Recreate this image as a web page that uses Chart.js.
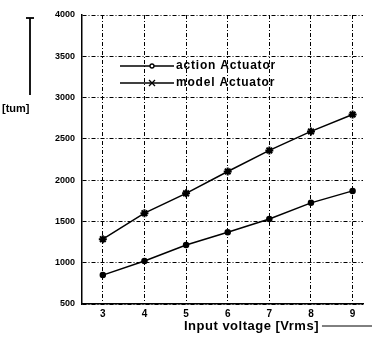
<!DOCTYPE html>
<html><head><meta charset="utf-8">
<script src="https://cdn.jsdelivr.net/npm/chart.js@4/dist/chart.umd.min.js"></script>
<style>html,body{margin:0;padding:0;background:#fff}#w{width:372px;height:341px}</style>
</head><body><div id="w"><canvas id="c"></canvas></div>
<script>
const categories = [3, 4, 5, 6, 7, 8, 9];
const actionActuator = [850, 1020, 1215, 1370, 1530, 1725, 1870];
const modelActuator = [1285, 1600, 1840, 2105, 2360, 2590, 2795];
const yTicks = [500, 1000, 1500, 2000, 2500, 3000, 3500, 4000];
const seriesNames = ['action Actuator', 'model Actuator'];
const yTitle = '[tum]';
const xTitle = 'Input voltage [Vrms]';

const FONT = '"Liberation Sans", Arial, sans-serif';

const annot = {
  id: 'annot',
  afterDraw(chart) {
    const ctx = chart.ctx;
    ctx.save();
    ctx.fillStyle = '#000'; ctx.strokeStyle = '#000';
    ctx.font = 'bold 11px ' + FONT;
    ctx.textAlign = 'left'; ctx.textBaseline = 'middle';
    ctx.fillText(yTitle, 2, 109);
    ctx.lineWidth = 1.8;
    ctx.beginPath(); ctx.moveTo(30, 18); ctx.lineTo(30, 95); ctx.stroke();
    ctx.beginPath(); ctx.moveTo(26, 18); ctx.lineTo(34, 18); ctx.stroke();
    ctx.font = 'bold 13px ' + FONT;
    if ('letterSpacing' in ctx) ctx.letterSpacing = '0.5px';
    ctx.fillText(xTitle, 184, 326);
    const tw = ctx.measureText(xTitle).width;
    ctx.lineWidth = 1;
    ctx.beginPath(); ctx.moveTo(184 + tw + 3, 326); ctx.lineTo(372, 326); ctx.stroke();
    ctx.font = 'bold 12px ' + FONT;
    if ('letterSpacing' in ctx) ctx.letterSpacing = '0.8px';
    [66, 83].forEach((y, i) => {
      ctx.lineWidth = 1.3;
      ctx.beginPath(); ctx.moveTo(120, y); ctx.lineTo(174, y); ctx.stroke();
      if (i === 0) {
        ctx.beginPath(); ctx.arc(152, y, 2, 0, Math.PI * 2); ctx.fillStyle = '#fff'; ctx.fill(); ctx.stroke();
        ctx.fillStyle = '#000';
      } else {
        ctx.beginPath(); ctx.moveTo(149, y - 3); ctx.lineTo(155, y + 3); ctx.moveTo(155, y - 3); ctx.lineTo(149, y + 3); ctx.stroke();
      }
      ctx.fillText(seriesNames[i], 176, y);
    });
    ctx.restore();
  }
};

new Chart(document.getElementById('c'), {
  type: 'line',
  data: {
    datasets: [
      { label: seriesNames[0], data: categories.map((x, i) => ({x, y: actionActuator[i]})),
        borderColor: '#000', backgroundColor: '#000', borderWidth: 1.5,
        pointStyle: 'circle', pointRadius: 2.5, pointBackgroundColor: '#000', pointBorderColor: '#000' },
      { label: seriesNames[1], data: categories.map((x, i) => ({x, y: modelActuator[i]})),
        borderColor: '#000', backgroundColor: '#000', borderWidth: 1.5,
        pointStyle: 'star', pointRadius: 4, pointBorderWidth: 2, pointBorderColor: '#000' }
    ]
  },
  options: {
    responsive: true, maintainAspectRatio: false, animation: false,
    layout: { padding: { top: 15, right: 9, left: 0, bottom: 0 } },
    plugins: { legend: { display: false }, tooltip: { enabled: false } },
    scales: {
      x: {
        type: 'linear', min: 2.5, max: 9.25,
        afterBuildTicks(s) { s.ticks = categories.map(v => ({ value: v })); },
        afterFit(s) { s.height = 37; },
        grid: { color: '#000', lineWidth: 1, drawTicks: false },
        border: { display: true, color: '#000', width: 1.5, dash: [4, 2, 1, 2] },
        ticks: { color: '#000', padding: 4, callback: v => String(v), font: { family: FONT, size: 10, weight: 'bold' } }
      },
      y: {
        min: 500, max: 4000,
        afterBuildTicks(s) { s.ticks = yTicks.map(v => ({ value: v })); },
        afterFit(s) { s.width = 82; },
        grid: { color: '#000', lineWidth: 1, drawTicks: false },
        border: { display: true, color: '#000', width: 1.5, dash: [4, 2, 1, 2] },
        ticks: { color: '#000', padding: 7, callback: v => String(v), font: { family: FONT, size: 9, weight: 'bold' } }
      }
    }
  },
  plugins: [annot]
});
</script>
</body></html>
